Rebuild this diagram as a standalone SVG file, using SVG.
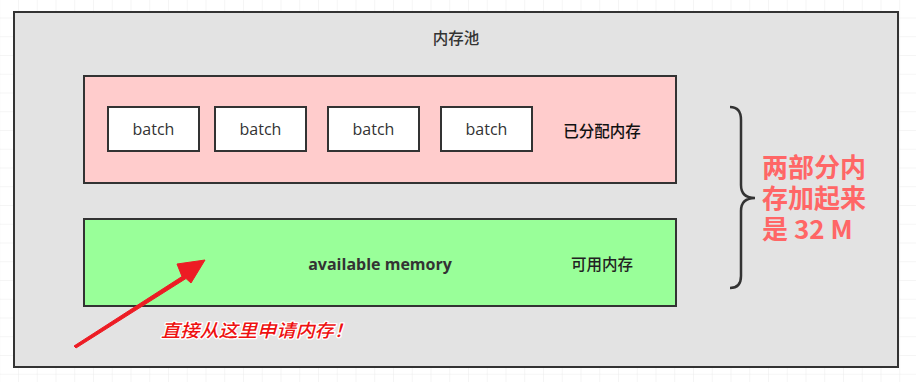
<svg xmlns="http://www.w3.org/2000/svg" width="916" height="382" viewBox="0 0 916 382">
<defs>
<pattern id="grid" patternUnits="userSpaceOnUse" x="-0.75" y="-1.25" width="18.75" height="18.75">
<path d="M0,0 H18.75 M0,0 V18.75" fill="none" stroke="#ebebeb" stroke-width="1"/>
</pattern>
<style>
.box{stroke:#333;stroke-width:2;}
.lbl{font-family:"Open Sans","Noto Sans CJK SC",sans-serif;fill:#333;}
.cjk{font-family:"Noto Sans CJK SC",sans-serif;fill:#222;font-size:15.5px;}
.batch{fill:#fff;stroke:#333;stroke-width:2;}
</style>
</defs>
<rect x="0" y="0" width="916" height="382" fill="#fff"/>
<rect x="0" y="0" width="916" height="382" fill="url(#grid)"/>

<g id="pool">
<rect class="box" x="14" y="12" width="884" height="355" fill="#e3e3e3"/>
<text class="cjk" x="456" y="44" text-anchor="middle" style="fill:#333;font-weight:500">内存池</text>
</g>

<g id="allocated">
<rect class="box" x="84" y="76" width="592" height="107" fill="#ffcccc"/>
<text class="cjk" x="602" y="137" text-anchor="middle" style="fill:#111;font-weight:500">已分配内存</text>
</g>

<g id="batch1">
<rect class="batch" x="108" y="107" width="91" height="44"/>
<text class="lbl" x="153.5" y="135" font-size="16" text-anchor="middle">batch</text>
</g>
<g id="batch2">
<rect class="batch" x="215" y="107" width="91" height="44"/>
<text class="lbl" x="260.5" y="135" font-size="16" text-anchor="middle">batch</text>
</g>
<g id="batch3">
<rect class="batch" x="328" y="107" width="91" height="44"/>
<text class="lbl" x="373.5" y="135" font-size="16" text-anchor="middle">batch</text>
</g>
<g id="batch4">
<rect class="batch" x="441" y="107" width="91" height="44"/>
<text class="lbl" x="486.5" y="135" font-size="16" text-anchor="middle">batch</text>
</g>

<g id="available">
<rect class="box" x="84" y="219" width="592" height="87" fill="#99ff99"/>
<text class="lbl" x="380" y="270" font-size="16" font-weight="bold" text-anchor="middle">available memory</text>
<text class="cjk" x="602" y="270" text-anchor="middle" style="fill:#222;font-weight:500">可用内存</text>
</g>

<g id="brace">
<path d="M730,107 Q741,107 741,120 L741,185 Q741,198 755,198 Q741,198 741,211 L741,276 Q741,288 730,288" fill="none" stroke="#333" stroke-width="2.5"/>
</g>

<g id="total">
<text font-family="'Noto Sans CJK SC',sans-serif" font-weight="bold" font-size="26" fill="#ff6666">
<tspan x="762" y="177">两部分内</tspan>
<tspan x="762" y="208">存加起来</tspan>
<tspan x="762" y="239">是 32 M</tspan>
</text>
</g>

<g id="connectors">
<polygon points="74,346 182,276.5 177,264 205,260 191,283 186,278.5 76,348" fill="#ed1c24" stroke="#ed1c24" stroke-width="1" stroke-linejoin="round"/>
</g>

<g id="note">
<text x="161" y="337" font-family="'Noto Sans CJK SC',sans-serif" font-size="18" font-weight="500" font-style="italic" fill="#ee1111" stroke="#fff" stroke-width="2.5" paint-order="stroke" stroke-linejoin="round" textLength="192" lengthAdjust="spacingAndGlyphs">直接从这里申请内存！</text>
</g>
</svg>
